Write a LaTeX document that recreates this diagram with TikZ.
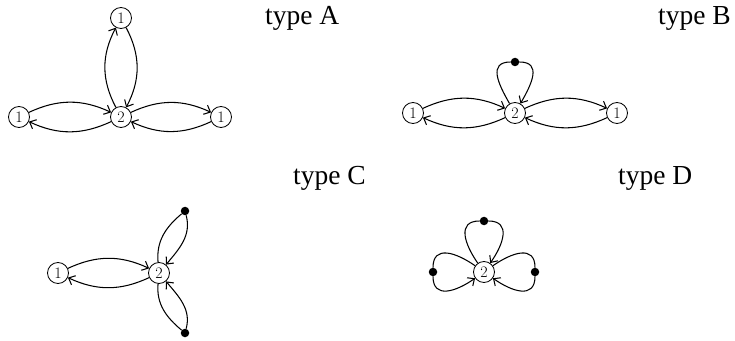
\documentclass[tikz,border=0pt]{standalone}
\usepackage{fontspec}
\newfontfamily\labfont{Liberation Serif}
\usetikzlibrary{arrows.meta}
\begin{document}
\begin{tikzpicture}[x=1pt,y=1pt,
  vtx/.style={draw,circle,line width=0.85pt,minimum size=21pt,inner sep=0pt,font=\fontsize{16}{16}\selectfont},
  blob/.style={fill=black,circle,minimum size=8.5pt,inner sep=0pt},
  lab/.style={anchor=base west,inner sep=0pt,font=\labfont\fontsize{27.5}{27.5}\selectfont},
  edge/.style={line width=1.05pt},
  >={Straight Barb[length=5.5pt,width=10pt,line width=1.05pt]}]
\useasboundingbox (0,0) rectangle (735,340);
% type A
\node[vtx] (At) at (121,322) {1};
\node[vtx] (A2) at (121,223) {2};
\node[vtx] (Al) at (19,223) {1};
\node[vtx] (Ar) at (221,223) {1};
\draw[edge,->] (Al) to[bend left=25] (A2);
\draw[edge,->] (A2) to[bend left=25] (Al);
\draw[edge,->] (A2) to[bend left=25] (Ar);
\draw[edge,->] (Ar) to[bend left=25] (A2);
\draw[edge,->] (A2) to[bend left=28] (At);
\draw[edge,->] (At) to[bend left=28] (A2);
\node[lab] (LA) at (265,315) {type A};
% type B
\node[vtx] (Bl) at (413,227) {1};
\node[vtx] (B2) at (515,227) {2};
\node[vtx] (Br) at (617,227) {1};
\node[blob] (Bd) at (515,278) {};
\draw[edge,->] (Bl) to[bend left=25] (B2);
\draw[edge,->] (B2) to[bend left=25] (Bl);
\draw[edge,->] (B2) to[bend left=25] (Br);
\draw[edge,->] (Br) to[bend left=25] (B2);
\draw[edge] (B2) to[out=120,in=180,looseness=1.4] (Bd);
\draw[edge,->] (Bd) to[out=0,in=60,looseness=1.4] (B2);
\node[lab] (LB) at (658,315) {type B};
% type C
\node[vtx] (C1) at (58,67) {1};
\node[vtx] (C2) at (159,67) {2};
\node[blob] (Ct) at (185,129) {};
\node[blob] (Cb) at (185,7) {};
\draw[edge,->] (C1) to[bend left=25] (C2);
\draw[edge,->] (C2) to[bend left=25] (C1);
\draw[edge] (C2) to[out=95,in=220] (Ct);
\draw[edge,->] (Ct) to[out=-75,in=50] (C2);
\draw[edge] (C2) to[out=-95,in=140] (Cb);
\draw[edge,->] (Cb) to[out=75,in=-50] (C2);
\node[lab] (LC) at (293,155) {type C};
% type D
\node[vtx] (D2) at (484,68) {2};
\node[blob] (Dt) at (484,119) {};
\node[blob] (Dl) at (433,68) {};
\node[blob] (Dr) at (535,68) {};
\draw[edge] (D2) to[out=125,in=180,looseness=1.4] (Dt);
\draw[edge,->] (Dt) to[out=0,in=55,looseness=1.4] (D2);
\draw[edge] (D2) to[out=145,in=90,looseness=1.4] (Dl);
\draw[edge,->] (Dl) to[out=-90,in=-145,looseness=1.4] (D2);
\draw[edge] (D2) to[out=35,in=90,looseness=1.4] (Dr);
\draw[edge,->] (Dr) to[out=-90,in=-35,looseness=1.4] (D2);
\node[lab] (LD) at (618,155) {type D};
\end{tikzpicture}
\end{document}
